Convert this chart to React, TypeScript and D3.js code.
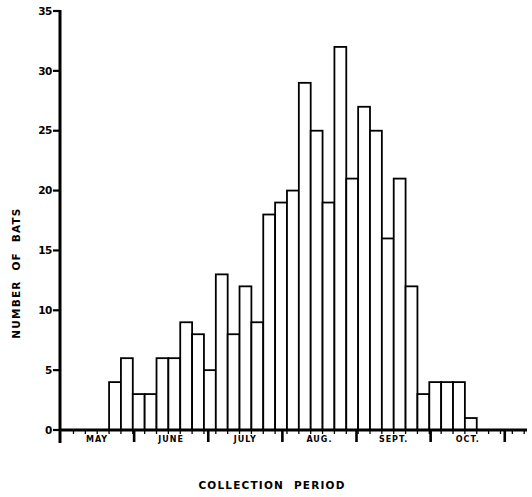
import React, { useEffect, useRef } from 'react'
import * as d3 from 'd3'

// number of bats per 5-day collection period
const counts = [4, 6, 3, 3, 6, 6, 9, 8, 5, 13, 8, 12, 9, 18, 19, 20, 29, 25, 19, 32, 21, 27, 25, 16, 21, 12, 3, 4, 4, 4, 1]
const months = ['MAY', 'JUNE', 'JULY', 'AUG.', 'SEPT.', 'OCT.']
const yTicks = [0, 5, 10, 15, 20, 25, 30, 35]

// collection periods in months since May 1
const firstPeriod = 0.662
const periodLen = 0.16

const W = 532
const H = 497
const FONT = '"DejaVu Sans", "Liberation Sans", sans-serif'

export default function App() {
  const ref = useRef<SVGSVGElement>(null)

  useEffect(() => {
    const svg = d3.select(ref.current)
    svg.selectAll('*').remove()

    const axisY = 430
    const x = d3.scaleLinear().domain([0, 6.3]).range([60, 527])
    const y = d3.scaleLinear().domain([0, 35]).range([axisY, 11])

    const xBand = d3.scaleBand<number>()
      .domain(d3.range(counts.length))
      .range([x(firstPeriod), x(firstPeriod + counts.length * periodLen)])
      .paddingInner(0)

    // bars
    svg.append('g')
      .selectAll('rect')
      .data(counts)
      .enter()
      .append('rect')
      .attr('x', (d, i) => xBand(i)!)
      .attr('y', d => y(d))
      .attr('width', xBand.bandwidth())
      .attr('height', d => axisY - y(d))
      .attr('fill', '#fff')
      .attr('stroke', '#000')
      .attr('stroke-width', 1.8)

    // y axis
    svg.append('line')
      .attr('x1', 60).attr('x2', 60)
      .attr('y1', y(35) - 1).attr('y2', axisY + 13)
      .attr('stroke', '#000').attr('stroke-width', 3)

    const yt = svg.append('g')
    yt.selectAll('line')
      .data(yTicks)
      .enter()
      .append('line')
      .attr('x1', 53).attr('x2', 60)
      .attr('y1', d => y(d)).attr('y2', d => y(d))
      .attr('stroke', '#000').attr('stroke-width', 2.2)
    yt.selectAll('text')
      .data(yTicks)
      .enter()
      .append('text')
      .attr('x', 52)
      .attr('y', d => y(d))
      .attr('dy', '0.36em')
      .attr('text-anchor', 'end')
      .attr('font-family', FONT)
      .attr('font-weight', 'bold')
      .attr('font-size', 10.5)
      .attr('letter-spacing', -0.4)
      .text(d => d)

    // x axis
    svg.append('line')
      .attr('x1', 60).attr('x2', 527)
      .attr('y1', axisY).attr('y2', axisY)
      .attr('stroke', '#000').attr('stroke-width', 3)

    // month boundaries
    svg.append('g')
      .selectAll('line')
      .data(d3.range(1, months.length + 1))
      .enter()
      .append('line')
      .attr('x1', d => x(d)).attr('x2', d => x(d))
      .attr('y1', axisY).attr('y2', axisY + 12)
      .attr('stroke', '#000').attr('stroke-width', 2.6)

    // 5-day minor ticks
    const minor = d3.range(-3, 36).map(k => firstPeriod + k * periodLen)
    svg.append('g')
      .selectAll('line')
      .data(minor)
      .enter()
      .append('line')
      .attr('x1', d => x(d)).attr('x2', d => x(d))
      .attr('y1', axisY).attr('y2', axisY + 4)
      .attr('stroke', '#000').attr('stroke-width', 1.3)

    // month labels
    svg.append('g')
      .selectAll('text')
      .data(months)
      .enter()
      .append('text')
      .attr('x', (d, i) => x(i + 0.5))
      .attr('y', axisY + 12)
      .attr('text-anchor', 'middle')
      .attr('font-family', FONT)
      .attr('font-weight', 'bold')
      .attr('font-size', 8)
      .attr('letter-spacing', 1)
      .text(d => d)

    // axis titles
    svg.append('text')
      .attr('x', 272)
      .attr('y', 489)
      .attr('text-anchor', 'middle')
      .attr('font-family', FONT)
      .attr('font-weight', 'bold')
      .attr('font-size', 10.5)
      .attr('letter-spacing', 1.2)
      .attr('word-spacing', 5)
      .text('COLLECTION PERIOD')

    svg.append('text')
      .attr('transform', 'translate(20, 273) rotate(-90)')
      .attr('text-anchor', 'middle')
      .attr('font-family', FONT)
      .attr('font-weight', 'bold')
      .attr('font-size', 10.5)
      .attr('letter-spacing', 1.2)
      .attr('word-spacing', 5)
      .text('NUMBER OF BATS')
  }, [])

  return (
    <svg
      ref={ref}
      width={W}
      height={H}
      style={{ position: 'absolute', left: 0, top: 0, background: '#fff' }}
    />
  )
}
